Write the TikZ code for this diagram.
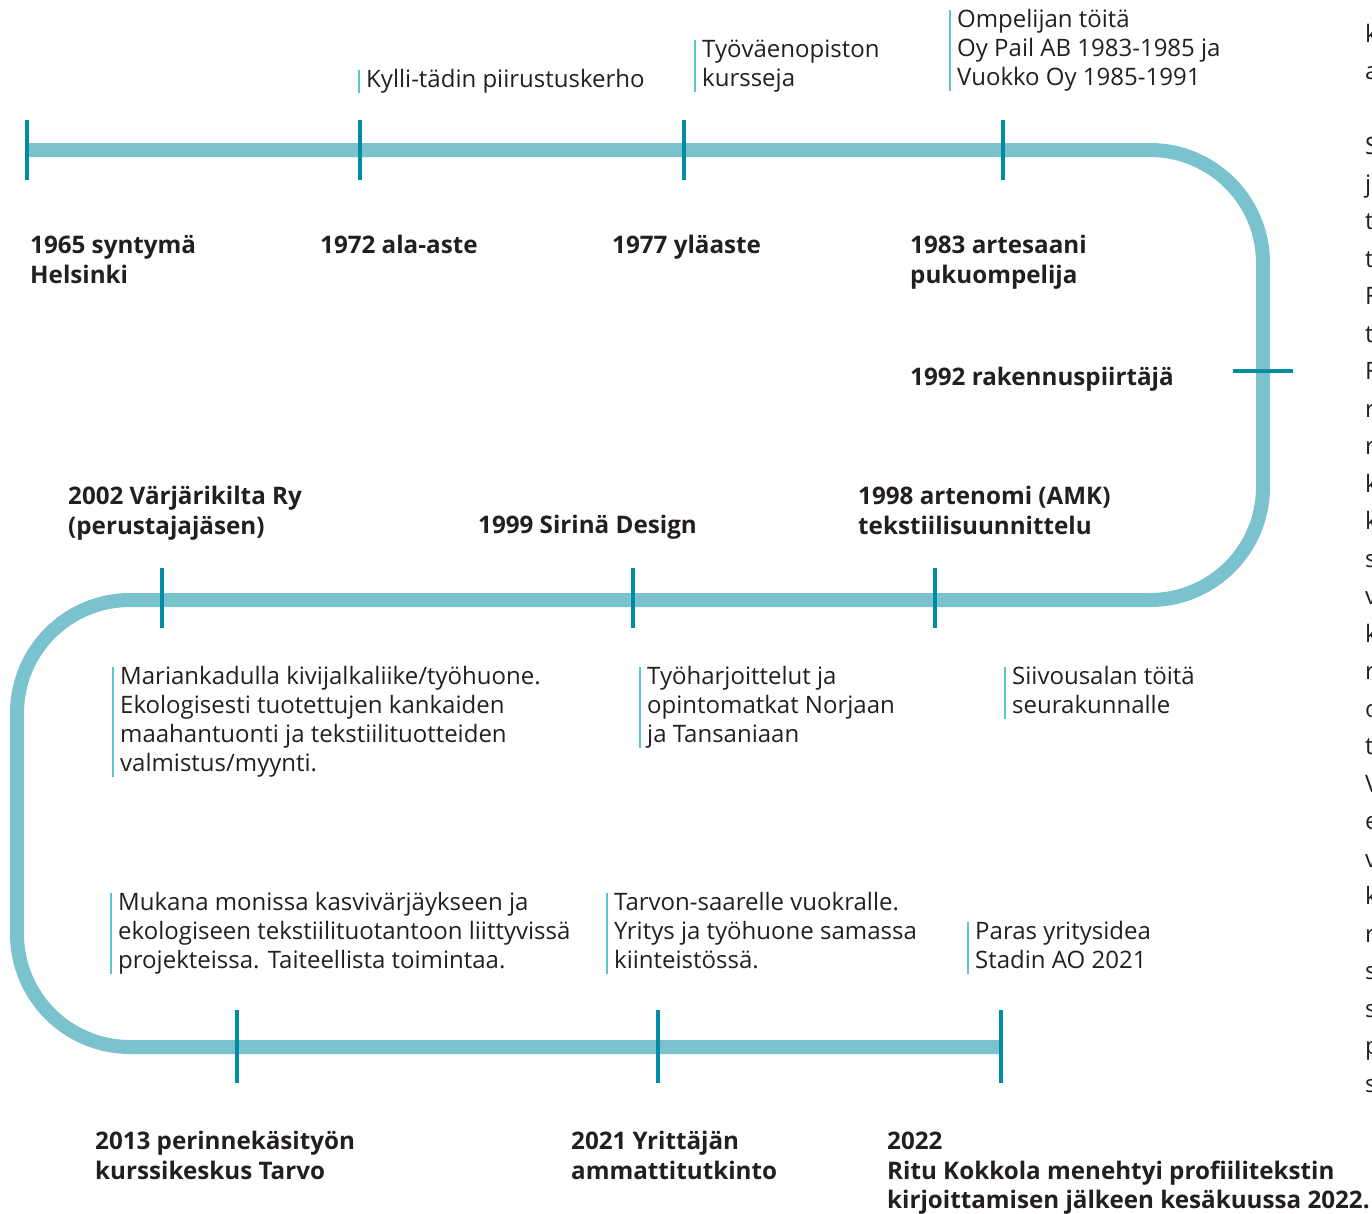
\documentclass[tikz,border=0pt]{standalone}
\usepackage{fontspec}
\setmainfont{Open Sans}
\definecolor{trk}{HTML}{7AC3CE}
\definecolor{tck}{HTML}{008CA3}
\definecolor{barc}{HTML}{5CC6CF}
\definecolor{txt}{HTML}{231F20}
\newcommand\mybeg{\rule{0pt}{1em}}
\newcommand\myend{\rule[-0.25em]{0pt}{0.25em}}
\begin{document}
\begin{tikzpicture}[x=1pt,y=-1pt,
  track/.style={draw=trk,line width=14pt,rounded corners=113pt},
  tickmark/.style={draw=tck,line width=4pt},
  ev/.style={anchor=north west,inner sep=0pt,align=left,text=txt,
    font=\fontsize{24.2}{29.8}\selectfont\bfseries},
  note/.style={anchor=north west,inner sep=0pt,align=left,text=txt,
    font=\fontsize{24}{29}\selectfont},
  bar/.style={draw=barc,line width=1.5pt}]
\useasboundingbox (0,0) rectangle (1372,1213);

% track
\coordinate (s) at (27,150);
\coordinate (c1) at (1263,150);
\coordinate (c2) at (1263,600);
\coordinate (c3) at (17,600);
\coordinate (c4) at (17,1047);
\coordinate (e) at (1001,1047);
\draw[track] (s) -- (c1) -- (c2) -- (c3) -- (c4) -- (e);

% ticks
\foreach \x in {27,360,684,1003} \draw[tickmark] (\x,120) -- (\x,180);
\draw[tickmark] (1233,371) -- (1293,371);
\foreach \x in {162,633,935} \draw[tickmark] (\x,568) -- (\x,628);
\foreach \x in {237,658,1001} \draw[tickmark] (\x,1010) -- (\x,1083);

% events
\node[ev] (e1965) at (30,228.8) {\mybeg 1965 syntymä\\Helsinki\myend};
\node[ev] (e1972) at (320,228.8) {\mybeg 1972 ala-aste\myend};
\node[ev] (e1977) at (612,228.8) {\mybeg 1977 yläaste\myend};
\node[ev] (e1983) at (910,228.8) {\mybeg 1983 artesaani\\pukuompelija\myend};
\node[ev] (e1992) at (910,360.8) {\mybeg 1992 rakennuspiirtäjä\myend};
\node[ev] (e2002) at (68,479.8) {\mybeg 2002 Värjärikilta Ry\\(perustajajäsen)\myend};
\node[ev] (e1999) at (478,508.8) {\mybeg 1999 Sirinä Design\myend};
\node[ev] (e1998) at (858,479.8) {\mybeg 1998 artenomi (AMK)\\tekstiilisuunnittelu\myend};
\node[ev] (e2013) at (95,1124.8) {\mybeg 2013 perinnekäsityön\\kurssikeskus Tarvo\myend};
\node[ev] (e2021) at (571,1124.8) {\mybeg 2021 Yrittäjän\\ammattitutkinto\myend};
\node[ev] (e2022) at (887,1124.8) {\mybeg 2022\\Ritu Kokkola menehtyi profiilitekstin\\kirjoittamisen jälkeen kesäkuussa 2022.\myend};

% notes
\node[note] (nkyl) at (366,63) {\mybeg Kylli-tädin piirustuskerho\myend};
\node[note] (ntyo) at (702,33) {\mybeg Työväenopiston\\kursseja\myend};
\node[note] (nomp) at (957,3) {\mybeg Ompelijan töitä\\Oy Pail AB 1983-1985 ja\\Vuokko Oy 1985-1991\myend};
\node[note] (nmar) at (120,660) {\mybeg Mariankadulla kivijalkaliike/työhuone.\\Ekologisesti tuotettujen kankaiden\\maahantuonti ja tekstiilituotteiden\\valmistus/myynti.\myend};
\node[note] (nhar) at (647,660) {\mybeg Työharjoittelut ja\\opintomatkat Norjaan\\ja Tansaniaan\myend};
\node[note] (nsii) at (1012,660) {\mybeg Siivousalan töitä\\seurakunnalle\myend};
\node[note] (nmuk) at (118,886) {\mybeg Mukana monissa kasvivärjäykseen ja\\ekologiseen tekstiilituotantoon liittyvissä\\projekteissa. Taiteellista toimintaa.\myend};
\node[note] (ntar) at (614,886) {\mybeg Tarvon-saarelle vuokralle.\\Yritys ja työhuone samassa\\kiinteistössä.\myend};
\node[note] (npar) at (975,915) {\mybeg Paras yritysidea\\Stadin AO 2021\myend};

\foreach \n in {nkyl,ntyo,nomp,nmar,nhar,nsii,nmuk,ntar,npar}
  \draw[bar] ([xshift=-7pt,yshift=-7pt]\n.north west) -- ([xshift=-7pt]\n.south west);

% clipped right column
\node[anchor=north west,inner sep=0pt,align=left,text=txt,
  font=\fontsize{24}{37.5}\selectfont] (side) at (1365,18)
  {\mybeg k\\a\\~\\S\\j\\t\\t\\F\\t\\F\\r\\r\\k\\k\\s\\v\\k\\r\\o\\t\\V\\e\\v\\k\\r\\s\\s\\p\\s};
\end{tikzpicture}
\end{document}
